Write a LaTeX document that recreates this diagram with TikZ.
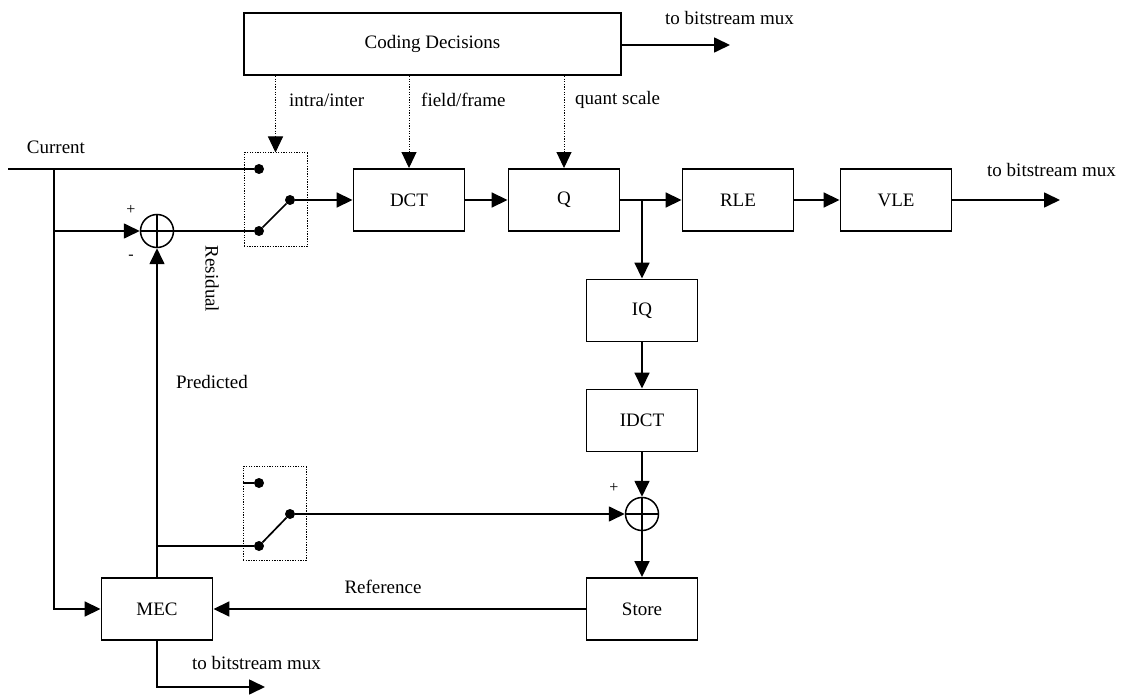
\documentclass[tikz,border=0pt]{standalone}
\usepackage{fontspec}
\setmainfont{Liberation Serif}
\usetikzlibrary{arrows.meta}
\begin{document}
\begin{tikzpicture}[x=1pt,y=-1pt,
  every node/.style={font=\fontsize{19}{22}\selectfont},
  blk/.style={draw,line width=1.9pt,minimum width=111pt,minimum height=62pt,inner sep=0pt},
  swbox/.style={draw,line width=1pt,dash pattern=on 1.3pt off 1.3pt,minimum width=63pt,minimum height=94pt,inner sep=0pt},
  dot/.style={circle,fill,inner sep=0pt,minimum size=10pt},
  sum/.style={circle,draw,line width=1.5pt,minimum size=33pt,inner sep=0pt,
    path picture={\draw[line width=1.3pt] (path picture bounding box.north) -- (path picture bounding box.south)
      (path picture bounding box.west) -- (path picture bounding box.east);}},
  wire/.style={line width=1.7pt},
  arr/.style={wire,-{Triangle[length=16pt,width=15pt]}},
  darr/.style={line width=1pt,dash pattern=on 1.3pt off 1.3pt,-{Triangle[length=16pt,width=15pt]}},
  lbl/.style={inner sep=0pt},
  sgn/.style={inner sep=0pt,font=\fontsize{16}{18}\selectfont}]
\useasboundingbox (0,0) rectangle (1125,695);

% processing blocks
\node[blk,minimum width=377pt,minimum height=62pt] (cd) at (432.5,44) {Coding Decisions};
\node[blk] (dct) at (409,200) {DCT};
\node[blk] (q) at (564,200) {Q};
\node[blk] (rle) at (738,200) {RLE};
\node[blk] (vle) at (896,200) {VLE};
\node[blk] (iq) at (642,310.5) {IQ};
\node[blk] (idct) at (642,420.5) {IDCT};
\node[blk] (store) at (642,609) {Store};
\node[blk] (mec) at (157,609) {MEC};

% adders
\node[sum] (add1) at (157,231) {};
\node[sum] (add2) at (642,514) {};

% intra/inter switch
\node[swbox] (sw1) at (275.5,200) {};
\node[dot] (s1a) at (259,169) {};
\node[dot] (s1b) at (259,231) {};
\node[dot] (s1o) at (290,200) {};
\draw[wire] (s1b) -- (s1o);

% prediction switch
\node[swbox] (sw2) at (274.5,513.5) {};
\node[dot] (s2a) at (259,483) {};
\node[dot] (s2b) at (259,546) {};
\node[dot] (s2o) at (290,514) {};
\draw[wire] (s2b) -- (s2o);
\draw[wire] (sw2.west |- s2a) -- (s2a);

% free ends and junctions
\coordinate (cin) at (8,169);
\coordinate (j1) at (54,169);
\coordinate (j2) at (54,231);
\coordinate (j3) at (157,546);
\coordinate (j4) at (642,200);
\coordinate (cdout) at (730,45);
\coordinate (vleout) at (1060,200);
\coordinate (mecout) at (265,687);

% forward path
\draw[wire] (cin) -- (s1a);
\draw[arr] (j2) -- (add1.west);
\draw[wire] (add1.east) -- (s1b);
\draw[arr] (s1o) -- (dct.west |- s1o);
\draw[arr] (dct) -- (q);
\draw[arr] (q) -- (rle);
\draw[arr] (rle) -- (vle);
\draw[arr] (vle.east) -- (vleout);
\draw[arr] (cd.east |- cdout) -- (cdout);

% reconstruction loop
\draw[arr] (j4) -- (iq.north);
\draw[arr] (iq) -- (idct);
\draw[arr] (idct) -- (add2.north);
\draw[arr] (add2.south) -- (store.north);
\draw[arr] (store.west) -- (mec.east);
\draw[arr] (s2o) -- (add2.west);

% motion compensation
\draw[arr] (j1) |- (mec.west);
\draw[arr] (mec.north) -- (add1.south);
\draw[wire] (j3) -- (s2b);
\draw[arr] (mec.south) |- (mecout);

% control signals
\draw[darr] (cd.south -| sw1.north) -- (sw1.north);
\draw[darr] (cd.south -| dct.north) -- (dct.north);
\draw[darr] (cd.south -| q.north) -- (q.north);

% labels
\node[lbl] (tcur) at (56,147) {Current};
\node[sgn] (tp1) at (131,210) {+};
\node[sgn] (tm1) at (131,257) {-};
\node[lbl,rotate=-90] (tres) at (212,279) {Residual};
\node[lbl] (tpred) at (212,382) {Predicted};
\node[sgn] (tp2) at (614,488) {+};
\node[lbl] (tref) at (383,587) {Reference};
\node[lbl,anchor=west] (tii) at (289,100) {intra/inter};
\node[lbl,anchor=west] (tff) at (421,100) {field/frame};
\node[lbl,anchor=west] (tqs) at (575,100) {quant scale};
\node[lbl,anchor=west] (tb1) at (665,18) {to bitstream mux};
\node[lbl,anchor=west] (tb2) at (987,170) {to bitstream mux};
\node[lbl,anchor=west] (tb3) at (192,663) {to bitstream mux};
\end{tikzpicture}
\end{document}
